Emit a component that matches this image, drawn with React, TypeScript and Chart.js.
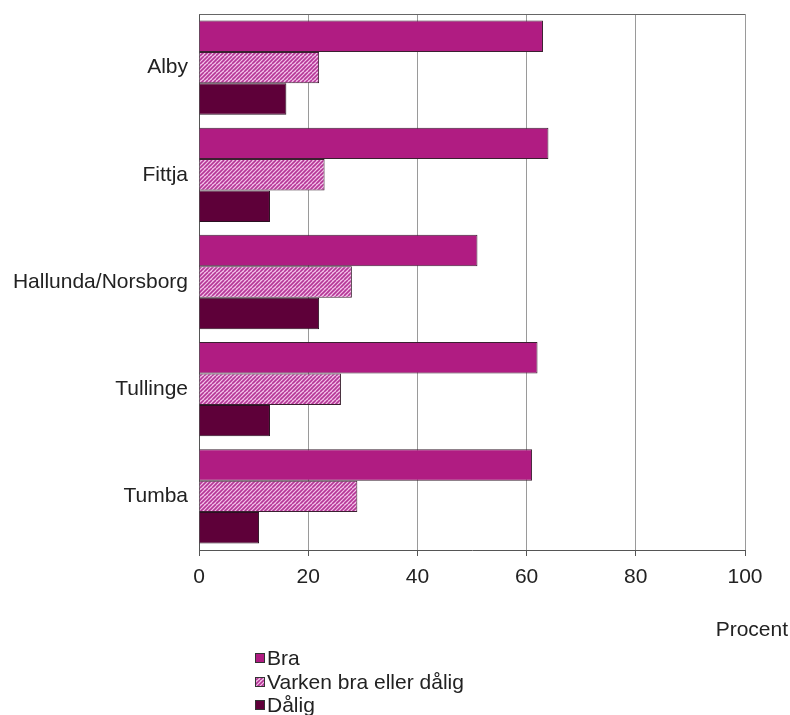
import React, { useEffect, useRef } from "react";
import { Chart, registerables } from "chart.js";

Chart.register(...registerables);

const categories = ["Alby", "Fittja", "Hallunda/Norsborg", "Tullinge", "Tumba"];
const braValues = [63, 64, 51, 62, 61];
const varkenValues = [22, 23, 28, 26, 29];
const daligValues = [16, 13, 22, 13, 11];
const seriesLabels = ["Bra", "Varken bra eller dålig", "Dålig"];
const xTicks = [0, 20, 40, 60, 80, 100];
const axisTitle = "Procent";

const FONT = "'Liberation Sans', Arial, sans-serif";
const FS = 21;
const BRA = "#B01C82";
const DALIG = "#5E0039";

function makeHatch(): CanvasPattern | string {
  const c = document.createElement("canvas");
  c.width = 8;
  c.height = 8;
  const ctx = c.getContext("2d");
  if (!ctx) return "#E3A0D4";
  ctx.fillStyle = "#F4C4EA";
  ctx.fillRect(0, 0, 8, 8);
  ctx.strokeStyle = "#B43596";
  ctx.lineWidth = 1.6;
  for (let k = -8; k <= 16; k += 4) {
    ctx.beginPath();
    ctx.moveTo(k, 8);
    ctx.lineTo(k + 8, 0);
    ctx.stroke();
  }
  return ctx.createPattern(c, "repeat") as CanvasPattern;
}

export default function App() {
  const ref = useRef<HTMLCanvasElement | null>(null);

  useEffect(() => {
    if (!ref.current) return;
    const hatch = makeHatch();

    const extras = {
      id: "extras",
      afterDraw(chart: any) {
        const { ctx, chartArea } = chart;
        ctx.save();
        ctx.strokeStyle = "#666";
        ctx.lineWidth = 1;
        ctx.beginPath();
        ctx.moveTo(chartArea.left, chartArea.top + 0.5);
        ctx.lineTo(chartArea.right, chartArea.top + 0.5);
        ctx.stroke();
        ctx.fillStyle = "#222";
        ctx.font = `${FS}px ${FONT}`;
        ctx.textAlign = "right";
        ctx.textBaseline = "middle";
        ctx.fillText(axisTitle, 788, 630);
        const rows = [658, 682, 705];
        chart.data.datasets.forEach((ds: any, i: number) => {
          const y = rows[i];
          ctx.fillStyle = ds.backgroundColor;
          ctx.fillRect(255, y - 5, 10, 10);
          ctx.strokeStyle = "#333";
          ctx.lineWidth = 1;
          ctx.strokeRect(255.5, y - 4.5, 9, 9);
          ctx.fillStyle = "#222";
          ctx.textAlign = "left";
          ctx.textBaseline = "middle";
          ctx.fillText(ds.label, 267, y + 1);
        });
        ctx.restore();
      },
    };

    const chart = new Chart(ref.current, {
      type: "bar",
      data: {
        labels: categories,
        datasets: [
          { label: seriesLabels[0], data: braValues, backgroundColor: BRA, borderColor: "#3a2030", borderWidth: 1 },
          { label: seriesLabels[1], data: varkenValues, backgroundColor: hatch as any, borderColor: "#3a2030", borderWidth: 1 },
          { label: seriesLabels[2], data: daligValues, backgroundColor: DALIG, borderColor: "#2a1020", borderWidth: 1 },
        ],
      },
      options: {
        indexAxis: "y",
        responsive: false,
        animation: false,
        layout: { padding: { top: 14, right: 45, left: 0, bottom: 0 } },
        datasets: { bar: { categoryPercentage: 0.88, barPercentage: 1.0 } },
        plugins: { legend: { display: false }, tooltip: { enabled: false } },
        scales: {
          x: {
            min: 0,
            max: 100,
            afterBuildTicks(scale: any) {
              scale.ticks = xTicks.map((v) => ({ value: v }));
            },
            afterFit(scale: any) {
              scale.height = 165;
              scale.paddingLeft = 0;
              scale.paddingRight = 0;
            },
            grid: { color: "#9a9a9a", lineWidth: 1, drawTicks: true, tickLength: 6, tickColor: "#555" },
            border: { display: true, color: "#555", width: 1 },
            ticks: { color: "#222", font: { family: FONT, size: FS }, padding: 9 },
          },
          y: {
            afterFit(scale: any) {
              scale.width = 199;
              scale.paddingTop = 0;
              scale.paddingBottom = 0;
            },
            grid: { display: false, drawTicks: false },
            border: { display: true, color: "#555", width: 1 },
            ticks: { color: "#222", font: { family: FONT, size: FS }, padding: 11 },
          },
        },
      },
      plugins: [extras],
    } as any);

    return () => chart.destroy();
  }, []);

  return (
    <div style={{ position: "absolute", left: 0, top: 0, width: 790, height: 715, background: "#fff" }}>
      <canvas ref={ref} width={790} height={715} />
    </div>
  );
}
